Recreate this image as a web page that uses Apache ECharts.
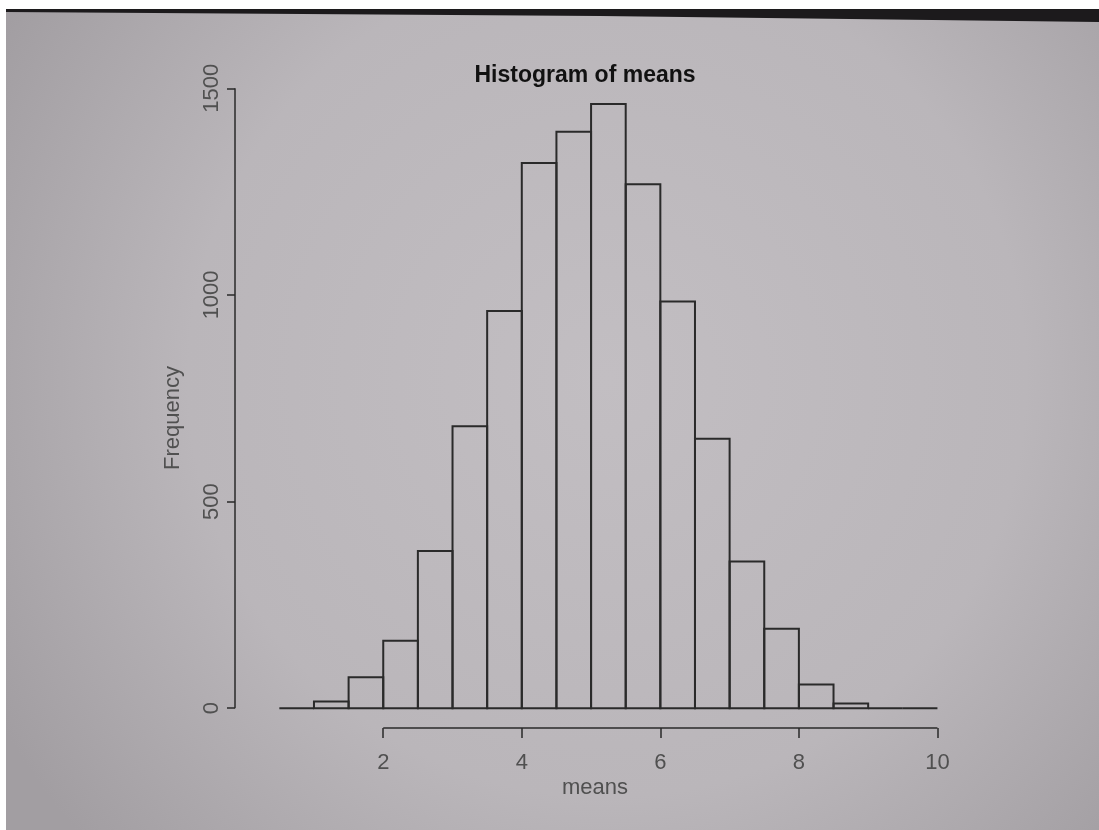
<!DOCTYPE html>
<html>
<head>
<meta charset="utf-8">
<script src="https://cdn.jsdelivr.net/npm/echarts@6/dist/echarts.min.js"></script>
<style>
  html, body { margin: 0; padding: 0; background: #ffffff; }
  #chart { width: 1099px; height: 830px; }
</style>
</head>
<body>
<div id="chart"></div>
<script>
// ---- data ----
const binStarts = [0.5, 1.0, 1.5, 2.0, 2.5, 3.0, 3.5, 4.0, 4.5, 5.0, 5.5, 6.0, 6.5, 7.0, 7.5, 8.0, 8.5, 9.0, 9.5];
const binWidth = 0.5;
const counts = [0, 16, 75, 163, 380, 682, 961, 1319, 1395, 1462, 1268, 984, 652, 355, 192, 57, 11, 0, 0];
const xTicks = [2, 4, 6, 8, 10];
const yTicks = [0, 500, 1000, 1500];
const titleText = 'Histogram of means';
const xName = 'means';
const yName = 'Frequency';

// ---- layout ----
const X_MIN = -0.14, X_MAX = 10.6;
const Y_MIN = -48, Y_MAX = 1520;
const LABEL_COLOR = '#505050';
const LINE_COLOR = '#2a2a2a';
const FONT = '"Liberation Sans", Arial, Helvetica, sans-serif';

const histData = binStarts.map((s, i) => [s, s + binWidth, counts[i]]);

const chart = echarts.init(document.getElementById('chart'), null, { renderer: 'canvas' });

const option = {
  backgroundColor: '#ffffff',
  animation: false,
  graphic: [
    {
      type: 'rect', z: -10, silent: true,
      shape: { x: 6, y: 9, width: 1093, height: 821 },
      style: {
        fill: new echarts.graphic.RadialGradient(0.55, 0.45, 0.85, [
          { offset: 0, color: '#c2bec2' },
          { offset: 0.6, color: '#bab6ba' },
          { offset: 1, color: '#a29ea2' }
        ])
      }
    },
    {
      type: 'polygon', z: -9, silent: true,
      shape: { points: [[6, 9], [1099, 9], [1099, 22], [600, 16], [6, 12]] },
      style: { fill: '#1c1a1c' }
    },
    {
      type: 'text', z: 10,
      x: 173, y: 418, rotation: Math.PI / 2,
      style: { text: yName, font: '22px ' + FONT, fill: LABEL_COLOR, align: 'center', verticalAlign: 'middle' }
    },
    {
      type: 'text', z: 10,
      x: 595, y: 788,
      style: { text: xName, font: '22px ' + FONT, fill: LABEL_COLOR, align: 'center', verticalAlign: 'middle' }
    },
    {
      type: 'text', z: 10,
      x: 585, y: 76,
      style: { text: titleText, font: 'bold 23px ' + FONT, fill: '#111111', align: 'center', verticalAlign: 'middle' }
    }
  ],
  grid: { left: 235, right: 120, top: 80, bottom: 102, containLabel: false },
  xAxis: {
    type: 'value', min: X_MIN, max: X_MAX,
    axisLine: { show: false, onZero: false },
    splitLine: { show: false },
    axisTick: { show: true, customValues: xTicks, length: 10, lineStyle: { color: LINE_COLOR, width: 1.5 } },
    axisLabel: { show: true, customValues: xTicks, fontSize: 22, fontFamily: FONT, color: LABEL_COLOR, margin: 24,
      formatter: function (v) { return String(v); } }
  },
  yAxis: {
    type: 'value', min: Y_MIN, max: Y_MAX,
    axisLine: { show: false, onZero: false },
    splitLine: { show: false },
    axisTick: { show: true, customValues: yTicks, length: 8, lineStyle: { color: LINE_COLOR, width: 1.5 } },
    axisLabel: { show: true, customValues: yTicks, rotate: 90, fontSize: 22, fontFamily: FONT, color: LABEL_COLOR, margin: 12,
      formatter: function (v) { return String(v); } }
  },
  series: [
    {
      type: 'custom',
      clip: false,
      data: histData,
      encode: { x: [0, 1], y: 2 },
      renderItem: function (params, api) {
        const p0 = api.coord([api.value(0), api.value(2)]);
        const p1 = api.coord([api.value(1), 0]);
        return {
          type: 'rect',
          shape: { x: p0[0], y: p0[1], width: p1[0] - p0[0], height: p1[1] - p0[1] },
          style: { fill: 'rgba(0,0,0,0)', stroke: LINE_COLOR, lineWidth: 2 }
        };
      }
    },
    {
      type: 'custom',
      clip: false,
      silent: true,
      data: [0],
      renderItem: function (params, api) {
        const xa = api.coord([xTicks[0], Y_MIN]);
        const xb = api.coord([xTicks[xTicks.length - 1], Y_MIN]);
        const ya = api.coord([X_MIN, yTicks[0]]);
        const yb = api.coord([X_MIN, yTicks[yTicks.length - 1]]);
        return {
          type: 'group',
          children: [
            { type: 'line', shape: { x1: xa[0], y1: xa[1], x2: xb[0], y2: xb[1] }, style: { stroke: LINE_COLOR, lineWidth: 1.5 } },
            { type: 'line', shape: { x1: ya[0], y1: ya[1], x2: yb[0], y2: yb[1] }, style: { stroke: LINE_COLOR, lineWidth: 1.5 } }
          ]
        };
      }
    }
  ]
};

chart.setOption(option);
</script>
</body>
</html>
